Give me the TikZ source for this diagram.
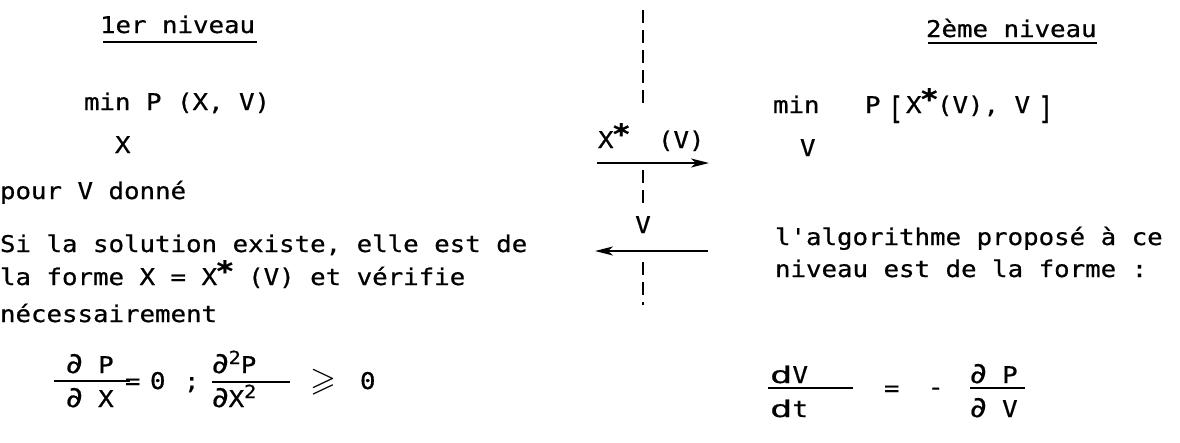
\documentclass[tikz,border=0pt]{standalone}
\usepackage{fontspec}
\usepackage{graphicx}
\usepackage{amssymb}
\usetikzlibrary{arrows.meta}
\newfontfamily\twfont{DejaVu Sans Mono}[FakeBold=0.6]
\newfontfamily\dvsfont{DejaVu Sans}[FakeBold=0.6]
\newcommand\T[1]{{\twfont\fontsize{23}{27}\selectfont\scalebox{1.12}[1]{#1}}}
\newcommand\st{\makebox[13.85pt][c]{\raisebox{4pt}{\fontsize{28}{28}\selectfont\bfseries *}}}
\newcommand\pd{\scalebox{1.25}{\dvsfont ∂}}
\newcommand\dd{\scalebox{1.45}[1]{d}}
\newcommand\sq[1]{\raisebox{9pt}{\fontsize{18}{18}\selectfont #1}}
\begin{document}
\begin{tikzpicture}[x=1pt,y=-1pt,
  txt/.style={anchor=base west,inner sep=0pt,outer sep=0pt},
  ctxt/.style={anchor=base,inner sep=0pt,outer sep=0pt},
  rule/.style={line width=1.6pt},
  divider/.style={line width=1.8pt,dash pattern=on 13pt off 7pt},
  flow/.style={line width=1.8pt,-{Stealth[length=18pt,width=9pt,inset=5pt]}}]
\useasboundingbox[fill=white] (0,0) rectangle (1180,442);

% ---- 1er niveau
\node[txt] (t1) at (100,33) {\T{1er niveau}};
\draw[rule] (103,42) -- (257,42);
\node[txt] (l1) at (84,110) {\T{min P (X, V)}};
\node[txt] (l1x) at (115,153) {\T{X}};
\node[txt] (l2) at (0,199) {\T{pour V donné}};
\node[txt] (l3) at (0,252) {\T{Si la solution existe, elle est de}};
\node[txt] (l4) at (0,285) {\T{la forme X = X\st{} (V) et vérifie}};
\node[txt] (l5) at (0,322) {\T{nécessairement}};

% fraction dP/dX = 0
\node[txt] (f1n) at (66,373) {\T{\pd{} P}};
\draw[rule] (54,381) -- (130,381);
\node[txt] (f1d) at (66,407) {\T{\pd{} X}};
\node[txt] (f1eq) at (125,389) {\T{=}};
\node[txt] (f1z) at (150,389) {\T{0}};
\node[txt] (f1sc) at (184,389) {\T{;}};
% fraction d2P/dX2 >= 0
\node[txt] (f2n) at (212,373) {\T{\pd{}\sq{2}P}};
\draw[rule] (212,382) -- (290,382);
\node[txt] (f2d) at (212,407) {\T{\pd{}X\sq{2}}};
\node[txt] (f2ge) at (310,390) {\scalebox{1.45}{\fontsize{23}{27}\selectfont$\geqslant$}};
\node[txt] (f2z) at (360,389) {\T{0}};

% ---- centre
\coordinate (d1) at (643,10);
\coordinate (d2) at (643,108);
\coordinate (d3) at (643,170);
\coordinate (d4) at (643,205);
\coordinate (d5) at (643,262);
\coordinate (d6) at (643,305);
\draw[divider] (d1) -- (d2);
\draw[divider] (d3) -- (d4);
\draw[divider] (d5) -- (d6);
\coordinate (a1) at (597,163);
\coordinate (a2) at (709,163);
\draw[flow] (a1) -- (a2);
\node[txt] (lab1) at (598,148) {\T{X\st{}}};
\node[txt] (lab1b) at (658,148) {\T{(V)}};
\coordinate (b1) at (708,251);
\coordinate (b2) at (595,251);
\draw[flow] (b1) -- (b2);
\node[ctxt] (lab2) at (643,233) {\T{V}};

% ---- 2eme niveau
\node[txt] (t2) at (926,37) {\T{2ème niveau}};
\draw[rule] (928,43) -- (1097,43);
\node[txt] (r1) at (773,113) {\T{min}};
\node[txt] (r1p) at (865,113) {\T{P}};
\node[txt] (r1lb) at (888,113) {\raisebox{-6pt}{\scalebox{1}[1.35]{\T{[}}}};
\node[txt] (r1x) at (906,113) {\T{X\st(V), V}};
\node[txt] (r1rb) at (1038,113) {\raisebox{-6pt}{\scalebox{1}[1.35]{\T{]}}}};
\node[txt] (r1v) at (800,156) {\T{V}};
\node[txt] (r2) at (775,245) {\T{l'algorithme proposé à ce}};
\node[txt] (r3) at (775,277) {\T{niveau est de la forme :}};
% dV/dt = - dP/dV
\node[txt] (g1n) at (770,383) {\T{\dd V}};
\draw[rule] (768,388) -- (853,388);
\node[txt] (g1d) at (770,417) {\T{\dd t}};
\node[txt] (geq) at (884,396) {\T{=}};
\node[txt] (gmin) at (928,395) {\T{-}};
\node[txt] (g2n) at (970,383) {\T{\pd{} P}};
\draw[rule] (970,388) -- (1025,388);
\node[txt] (g2d) at (970,417) {\T{\pd{} V}};
\end{tikzpicture}
\end{document}
